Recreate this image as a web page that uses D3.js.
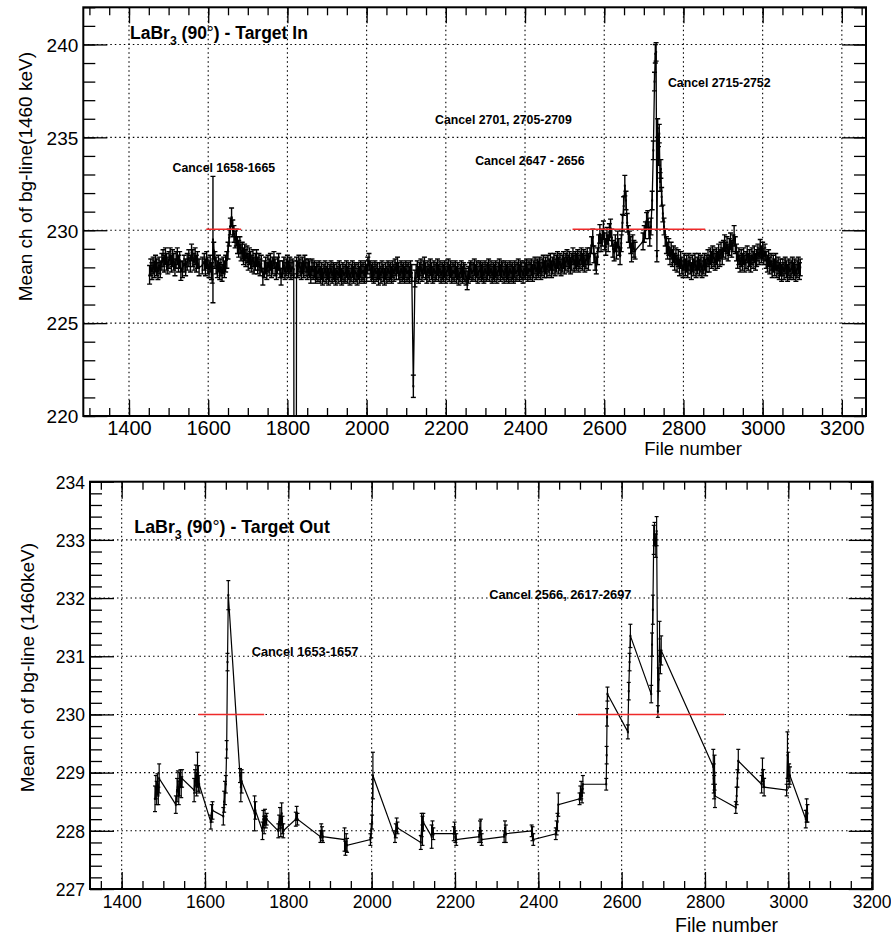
<!DOCTYPE html>
<html>
<head>
<meta charset="utf-8">
<script src="https://cdn.jsdelivr.net/npm/d3@7"></script>
<style>
  html, body { margin: 0; padding: 0; background: #ffffff; }
  svg { display: block; font-family: "Liberation Sans", Arial, Helvetica, sans-serif; }
</style>
</head>
<body>
<svg id="chart" width="891" height="935"></svg>
<script>
// ---------------------------------------------------------------
// Mean channel of the 1460 keV background line per file number,
// LaBr3 detector at 90 degrees.  Rows: [file number, mean ch, error]
// (error omitted -> typicalErrIn / typicalErrOut).
// ---------------------------------------------------------------
const typicalErrIn = 0.45;
const targetIn = [
  [1452,227.6,0.5],[1455,228.0],[1458,227.8],[1461,228.1],[1464,227.9],[1467,228.2],[1470,228.0],[1473,227.8],
  [1476,228.1],[1479,227.9],[1483,228.3],[1486,228.5],[1489,228.2],[1492,228.6],[1495,228.3],[1498,228.1],
  [1501,228.4],[1504,228.6],[1507,228.2],[1510,228.5],[1513,228.3],[1516,228.0],[1519,228.4],[1522,228.6],
  [1525,228.2],[1528,228.4],[1531,227.8,0.5],[1535,227.9],[1539,228.2],[1543,228.0],[1547,228.3],[1551,228.5],
  [1555,228.2],[1558,228.8],[1561,228.5],[1564,228.3],[1567,228.6],[1570,228.2],[1573,228.4],[1577,228.0],
  [1585,228.1],[1590,228.3],[1593,228.0],[1596,228.4],[1599,228.1],[1602,227.9],[1605,228.2],[1608,227.8],
  [1610,227.6],[1612,229.5,3.4],[1614,228.9],[1617,228.4],[1620,228.1],[1623,227.9],[1626,228.2],[1629,227.8],
  [1632,228.0],[1635,227.7],[1638,228.1],[1641,227.9],[1644,228.2],[1647,228.4],[1650,228.9],[1653,229.6],
  [1656,230.2],[1659,230.7,0.5],[1662,230.1],[1665,229.8],[1668,229.5],[1671,229.6],[1674,229.2],[1677,229.0],
  [1680,229.2],[1683,228.8],[1686,228.9],[1689,228.6],[1692,228.8],[1695,228.5],[1698,228.7],[1701,228.3],
  [1704,228.6],[1707,228.4],[1710,228.2],[1713,228.5],[1716,228.1],[1719,228.3],[1722,228.5],[1725,228.1],
  [1728,228.3],[1731,228.0],[1734,228.2],[1738,227.5],[1742,227.9],[1745,228.1],[1748,227.8],[1751,228.2],
  [1754,228.0],[1757,228.3],[1760,227.9],[1763,228.1],[1766,228.4],[1769,228.0],[1772,227.8],[1775,228.1],
  [1778,228.3],[1781,227.9],[1784,227.5],[1788,227.9],[1791,228.1],[1794,227.8],[1797,228.0],[1800,228.2],
  [1803,227.9],[1806,228.1],[1809,227.8],[1812,228.0],[1816,227.9],[1820,150.0,0],[1823,228.1],[1826,227.9],
  [1829,228.2],[1832,228.0],[1835,227.8],[1838,228.1],[1841,227.9],[1844,228.2],[1847,228.0],[1850,227.8],
  [1853,228.0],[1856,227.9],[1859,227.6],[1862,228.0],[1865,227.8],[1868,227.9],[1871,227.6],[1874,227.8],
  [1877,227.7],[1880,227.9],[1883,227.6],[1886,227.8],[1889,227.5],[1892,227.7],[1895,227.9],[1898,227.6],
  [1901,227.8],[1904,227.5],[1907,227.7],[1910,227.9],[1913,227.6],[1916,227.8],[1919,227.7],[1922,227.5],
  [1925,227.8],[1928,227.6],[1931,227.9],[1934,227.7],[1937,227.5],[1940,227.8],[1943,227.6],[1946,227.7],
  [1949,227.9],[1952,227.6],[1955,227.8],[1958,227.5],[1961,227.7],[1964,227.9],[1967,227.6],[1970,227.8],
  [1973,227.7],[1976,227.5],[1979,227.8],[1982,227.6],[1985,227.9],[1988,227.7],[1991,227.8],[1994,227.6],
  [1997,227.9],[2000,227.7],[2003,228.1],[2006,228.3],[2009,227.9],[2012,227.7],[2015,227.8],[2018,227.6],
  [2021,227.9],[2024,227.7],[2027,227.8],[2030,227.5],[2033,227.8],[2036,227.6],[2039,227.9],[2042,227.7],
  [2045,227.5],[2048,227.8],[2051,227.6],[2054,227.9],[2057,227.7],[2060,227.8],[2063,227.6],[2066,227.9],
  [2069,227.7],[2072,228.0],[2075,227.8],[2078,228.1],[2081,227.8],[2084,227.6],[2087,227.9],[2090,227.7],
  [2093,227.8],[2096,227.6],[2099,227.9],[2102,227.7],[2105,227.8],[2108,227.6],[2111,227.9],[2114,227.7],
  [2118,221.6,0.6],[2122,227.4],[2125,227.7],[2128,227.9],[2131,227.6],[2134,227.8],[2137,228.0],[2140,227.7],
  [2143,227.9],[2146,228.1],[2149,227.8],[2152,227.6],[2155,227.9],[2158,227.7],[2161,228.0],[2164,227.8],
  [2167,227.6],[2170,227.9],[2173,227.7],[2176,227.8],[2179,228.0],[2182,227.7],[2185,227.9],[2188,227.6],
  [2191,227.8],[2194,227.7],[2197,227.9],[2200,227.6],[2203,227.8],[2206,228.0],[2209,227.7],[2212,227.9],
  [2215,227.6],[2218,227.8],[2221,227.7],[2224,227.9],[2227,227.6],[2230,227.8],[2233,227.5],[2236,227.7],
  [2239,227.9],[2242,227.6],[2245,227.8],[2248,227.7],[2251,227.5],[2254,227.3,0.5],[2257,227.6],[2260,227.8],
  [2263,227.9],[2266,227.7],[2269,227.8],[2272,228.0],[2275,227.7],[2278,227.9],[2281,227.6],[2284,227.8],
  [2287,227.9],[2290,227.7],[2293,227.8],[2296,227.6],[2299,227.9],[2302,227.7],[2305,227.8],[2308,228.0],
  [2311,227.7],[2314,227.9],[2317,227.6],[2320,227.8],[2323,227.7],[2326,227.9],[2329,227.6],[2332,227.8],
  [2335,228.0],[2338,227.7],[2341,227.9],[2344,227.8],[2347,227.6],[2350,227.9],[2353,227.7],[2356,227.8],
  [2359,227.6],[2362,227.9],[2365,227.7],[2368,227.8],[2371,227.6],[2374,227.9],[2377,227.7],[2380,227.8],
  [2383,228.0],[2386,227.7],[2389,227.9],[2392,227.8],[2395,227.6],[2398,227.9],[2401,227.8],[2404,228.0],
  [2407,227.7],[2410,227.9],[2413,227.8],[2416,228.0],[2419,227.7],[2422,227.9],[2425,228.1],[2428,227.8],
  [2431,228.0],[2434,227.9],[2437,228.1],[2440,227.8],[2443,228.0],[2446,228.2],[2449,227.9],[2452,228.1],
  [2455,227.9],[2458,228.2],[2461,228.0],[2464,228.3],[2467,227.9],[2470,228.1],[2473,228.3],[2476,228.0],
  [2479,228.2],[2482,228.4],[2485,228.1],[2488,228.3],[2491,228.0],[2494,228.2],[2497,228.4],[2500,228.1],
  [2503,228.3],[2506,228.5],[2509,228.2],[2512,228.4],[2515,228.1],[2518,228.3],[2521,228.6],[2524,228.2],
  [2527,228.4],[2530,228.3],[2533,228.5],[2536,228.2],[2539,228.4],[2542,228.6],[2545,228.3],[2548,228.5],
  [2551,228.2],[2554,228.4],[2557,228.6],[2560,228.3],[2564,228.6],[2568,229.2],[2571,229.6],[2574,228.7],
  [2577,228.3],[2580,228.1],[2583,228.6],[2586,229.3],[2589,229.8,0.5],[2592,229.3],[2595,229.6],[2598,230.0,0.5],
  [2601,229.4],[2604,229.1],[2607,229.7],[2610,229.3],[2613,229.9],[2616,230.1,0.5],[2619,229.6],[2622,229.0],
  [2625,228.8],[2628,229.3],[2631,228.9],[2634,229.5],[2637,229.1],[2640,228.6],[2643,229.3],[2646,230.4],
  [2649,231.3,0.5],[2652,232.4,0.55],[2655,231.6,0.5],[2658,230.4,0.5],[2661,229.8],[2664,229.5],[2667,229.2],[2669,228.8,0.5],
  [2672,229.3],[2675,229.0],[2678,228.9],[2698,229.4],[2701,229.8],[2704,230.0],[2707,230.5],[2710,230.6],
  [2713,230.0],[2715,229.6],[2718,230.2],[2721,231.6,0.5],[2724,234.3,0.5],[2727,238.0,0.5],[2729,239.5,0.5],[2731,239.6,0.5],
  [2733,228.6,0.3],[2735,235.5,0.5],[2737,234.0,0.5],[2739,235.2,0.5],[2741,232.6,0.5],[2743,233.3,0.5],[2745,231.8,0.5],[2748,230.9],
  [2751,230.2],[2754,229.6],[2757,229.2],[2760,228.9],[2763,229.1],[2766,228.6],[2769,228.9],[2772,228.5],
  [2775,228.7],[2778,228.3],[2781,228.6],[2784,228.2],[2787,228.5],[2790,228.0],[2793,228.4],[2796,228.1],
  [2799,227.9],[2802,228.3],[2805,228.0],[2808,228.2],[2811,227.9],[2814,228.3],[2817,228.1],[2820,227.8],
  [2823,228.2],[2826,228.0],[2829,228.3],[2832,227.9],[2835,228.1],[2838,228.3],[2841,228.0],[2844,228.2],
  [2847,227.9],[2850,228.1],[2853,228.3],[2856,228.0],[2859,228.2],[2862,228.5],[2865,228.2],[2868,228.6],
  [2871,228.4],[2874,228.7],[2877,228.5],[2880,228.3],[2883,228.6],[2886,228.4],[2889,228.8],[2892,228.5],
  [2895,228.9],[2898,228.6],[2901,229.0],[2904,229.3],[2907,228.9],[2910,229.2],[2913,228.8],[2916,229.1],
  [2919,229.4],[2922,229.0],[2925,229.3],[2928,229.7,0.55],[2931,229.2],[2934,228.8],[2937,228.4],[2940,228.6],
  [2943,228.2],[2946,228.5],[2949,228.3],[2952,228.6],[2955,228.2],[2958,228.4],[2961,228.7],[2964,228.3],
  [2967,228.5],[2970,228.2],[2973,228.6],[2976,228.4],[2979,228.7],[2982,228.3],[2985,228.5],[2988,228.8],
  [2991,228.6],[2994,229.0,0.5],[2997,228.7],[3000,228.9],[3003,228.6],[3006,228.8],[3009,228.4],[3012,228.2],
  [3015,228.5],[3018,228.1],[3021,228.3],[3024,227.9],[3027,228.2],[3030,228.0],[3033,228.3],[3036,227.9],
  [3039,228.1],[3042,227.8],[3045,228.0],[3048,227.7],[3051,228.0],[3054,227.8],[3057,228.1],[3060,227.9],
  [3063,227.7],[3066,228.0],[3069,227.8],[3072,227.9],[3075,228.1],[3078,227.8],[3081,228.0],[3084,227.7],
  [3087,227.9],[3090,228.1],[3093,227.8],[3095,228.0]
];

const typicalErrOut = 0.15;
const targetOut = [
  [1480,228.55,0.22],[1482,228.75,0.2],[1484,228.65,0.2],[1486,228.8,0.18],[1488,228.6],[1490,228.9,0.25],
  [1530,228.45],[1533,228.7,0.2],[1535,228.85,0.18],[1537,228.6],[1539,228.8,0.2],[1541,228.9],[1543,228.75,0.18],[1545,228.9],
  [1574,228.7,0.2],[1576,228.85,0.2],[1578,228.95,0.18],[1580,228.8,0.2],[1582,229.05,0.3],[1584,228.9,0.22],[1586,228.8],
  [1614,228.15,0.12],[1616,228.3],[1618,228.35],
  [1644,228.25],[1646,228.5,0.18],[1648,228.65,0.2],[1650,228.8],[1652,229.4],[1654,230.9],[1656,232.05,0.25],
  [1684,228.95,0.12],[1686,228.75,0.25],[1688,228.85,0.2],
  [1719,228.3,0.3],[1721,228.35],
  [1738,228.0],[1740,228.2],[1742,228.1],[1744,228.25,0.12],[1746,228.15,0.1],[1748,228.2,0.1],
  [1776,228.0,0.12],[1778,228.15,0.12],[1780,228.25],[1782,228.05],[1784,228.3,0.18],[1786,228.1],[1788,228.0,0.12],
  [1818,228.2,0.12],[1820,228.3,0.12],[1822,228.2,0.1],
  [1877,227.9,0.1],[1879,228.0,0.12],[1881,227.95,0.12],[1883,227.9,0.1],
  [1935,227.85,0.2],[1937,227.7,0.12],[1939,227.8],[1941,227.75,0.12],
  [1997,227.85,0.1],[1999,228.0,0.12],[2001,228.15,0.12],[2003,228.95,0.4],
  [2056,227.9,0.1],[2058,228.0,0.12],[2060,228.1,0.12],[2062,228.05,0.1],
  [2118,227.8,0.12],[2120,228.1,0.2],[2122,228.0,0.25],[2124,228.15],
  [2144,227.9,0.2],[2146,228.05,0.12],[2148,227.95,0.1],
  [2197,227.95,0.12],[2199,228.05,0.1],[2201,227.9,0.1],[2203,227.85,0.1],
  [2258,227.9,0.1],[2260,228.05,0.12],[2262,228.0,0.2],[2264,227.85,0.1],
  [2318,227.9,0.1],[2320,228.05,0.12],[2322,227.95],
  [2384,228.0,0.1],[2386,227.95,0.12],[2388,227.85,0.1],
  [2442,227.95,0.1],[2444,228.05,0.12],[2446,228.15],[2448,228.45,0.2],
  [2499,228.55,0.1],[2501,228.65,0.12],[2503,228.7],[2505,228.6,0.12],[2507,228.8],
  [2563,228.8,0.1],[2564,229.3],[2565,229.95],[2566,230.35,0.12],
  [2615,229.7,0.12],[2617,230.4],[2619,230.9],[2621,231.35,0.2],
  [2671,230.35],[2673,231.2,0.2],[2675,231.8,0.25],[2677,233.0,0.25],[2679,233.1,0.2],[2682,232.9,0.2],[2684,233.15,0.25],
  [2687,230.05,0.1],[2689,230.6,0.2],[2691,231.3,0.3],[2693,230.9,0.2],[2695,231.1,0.25],
  [2820,229.1,0.3],[2821,228.9,0.25],[2822,228.75,0.2],[2823,229.0,0.3],[2824,228.6,0.2],
  [2874,228.4,0.1],[2876,228.6],[2878,228.9],[2880,229.2,0.2],
  [2936,228.8],[2938,229.05,0.2],[2940,228.9],[2942,228.75],
  [2996,228.7,0.1],[2998,229.3,0.4],[3000,229.1,0.25],[3002,228.95,0.2],[3004,228.95],
  [3042,228.2],[3044,228.35,0.2],[3046,228.3]
];

// Reference level (red) segments: [from file, to file]
const refLevelIn = 230.05;
const refSegmentsIn = [[1595, 1683], [2520, 2855]];
const refLevelOut = 230.0;
const refSegmentsOut = [[1584, 1742], [2495, 2846]];

// Tick values
const xMajorTicks = [1400, 1600, 1800, 2000, 2200, 2400, 2600, 2800, 3000, 3200];
const xMinorTicks = d3.range(1300, 3251, 50);
const yMajorTicksIn = [220, 225, 230, 235, 240];
const yMinorTicksIn = d3.range(220, 243, 1);
const yMajorTicksOut = [227, 228, 229, 230, 231, 232, 233, 234];
const yMinorTicksOut = d3.range(227, 234.01, 0.2);

// Annotation texts: [file, value, text, anchor]
const notesIn = [
  [1510, 233.14, "Cancel 1658-1665", "start"],
  [2518, 235.71, "Cancel 2701, 2705-2709", "end"],
  [2274, 233.51, "Cancel 2647 - 2656", "start"],
  [2761, 237.69, "Cancel 2715-2752", "start"]
];
const notesOut = [
  [1712, 231.0, "Cancel 1653-1657", "start"],
  [2282, 231.98, "Cancel 2566, 2617-2697", "start"]
];

const svg = d3.select("#chart");
const FONT = '"Liberation Sans", Arial, Helvetica, sans-serif';

function drawPanel(p) {
  const x = d3.scaleLinear().domain(p.xDomain).range([p.left, p.right]);
  const y = d3.scaleLinear().domain(p.yDomain).range([p.bottom, p.top]);
  const g = svg.append("g");

  svg.append("clipPath").attr("id", p.id + "-clip")
    .append("rect")
    .attr("x", p.left).attr("y", p.top)
    .attr("width", p.right - p.left).attr("height", p.bottom - p.top);

  // dotted grid at the major ticks
  const grid = g.append("g").attr("stroke", "#000").attr("stroke-width", 1.1)
    .attr("stroke-dasharray", "1.5 3").attr("fill", "none");
  grid.selectAll("line.gx")
    .data(p.xMajor.filter(v => x(v) > p.left + 1 && x(v) < p.right - 1))
    .join("line").attr("class", "gx")
    .attr("x1", d => x(d)).attr("x2", d => x(d))
    .attr("y1", p.top).attr("y2", p.bottom);
  grid.selectAll("line.gy")
    .data(p.yMajor.filter(v => y(v) > p.top + 1 && y(v) < p.bottom - 1))
    .join("line").attr("class", "gy")
    .attr("x1", p.left).attr("x2", p.right)
    .attr("y1", d => y(d)).attr("y2", d => y(d));

  // inward ticks on all four sides
  const inDomainX = p.xMinor.filter(v => v >= p.xDomain[0] && v <= p.xDomain[1]);
  const inDomainY = p.yMinor.filter(v => v >= p.yDomain[0] - 1e-6 && v <= p.yDomain[1] + 1e-6);
  const tickStyle = sel => {
    sel.select(".domain").remove();
    sel.selectAll("line").attr("stroke", "#000").attr("stroke-width", 1.3);
    sel.attr("font-family", null).attr("font-size", null);
  };
  g.append("g").attr("transform", `translate(0,${p.bottom})`)
    .call(d3.axisBottom(x).tickValues(inDomainX).tickSize(-p.xMinorLen).tickFormat(""))
    .call(tickStyle);
  g.append("g").attr("transform", `translate(0,${p.top})`)
    .call(d3.axisTop(x).tickValues(inDomainX).tickSize(-p.xMinorLen).tickFormat(""))
    .call(tickStyle);
  g.append("g").attr("transform", `translate(0,${p.top})`)
    .call(d3.axisTop(x).tickValues(p.xMajor).tickSize(-p.xMajorLen).tickFormat(""))
    .call(tickStyle);
  g.append("g").attr("transform", `translate(${p.left},0)`)
    .call(d3.axisLeft(y).tickValues(inDomainY).tickSize(-p.yMinorLen).tickFormat(""))
    .call(tickStyle);
  g.append("g").attr("transform", `translate(${p.right},0)`)
    .call(d3.axisRight(y).tickValues(inDomainY).tickSize(-p.yMinorLen).tickFormat(""))
    .call(tickStyle);
  g.append("g").attr("transform", `translate(${p.right},0)`)
    .call(d3.axisRight(y).tickValues(p.yMajor).tickSize(-p.yMajorLen).tickFormat(""))
    .call(tickStyle);

  // labelled axes (bottom and left)
  const xAxis = g.append("g").attr("transform", `translate(0,${p.bottom})`)
    .call(d3.axisBottom(x).tickValues(p.xMajor).tickSize(-p.xMajorLen).tickFormat(d3.format("d")))
    .call(tickStyle);
  xAxis.selectAll("text")
    .attr("y", p.xLabelOffset).attr("dy", null)
    .attr("fill", "#000").attr("font-family", FONT).attr("font-size", p.xLabelSize);
  const yAxis = g.append("g").attr("transform", `translate(${p.left},0)`)
    .call(d3.axisLeft(y).tickValues(p.yMajor).tickSize(-p.yMajorLen).tickFormat(d3.format("d")))
    .call(tickStyle);
  yAxis.selectAll("text")
    .attr("x", -p.yLabelGap).attr("dy", "0.36em")
    .attr("fill", "#000").attr("font-family", FONT).attr("font-size", p.yLabelSize);

  // data: connecting line, error bars with end caps, small markers
  const data = p.data.map(r => ({ f: r[0], v: r[1], e: r.length > 2 ? r[2] : p.typicalErr }));
  const plot = g.append("g").attr("clip-path", `url(#${p.id}-clip)`);
  plot.append("path").datum(data)
    .attr("fill", "none").attr("stroke", "#000").attr("stroke-width", p.lineWidth)
    .attr("d", d3.line().x(d => x(d.f)).y(d => y(d.v)));
  const bars = plot.append("g").attr("stroke", "#000").attr("stroke-width", p.barWidth);
  const withErr = data.filter(d => d.e > 0);
  bars.selectAll("line.eb").data(withErr).join("line").attr("class", "eb")
    .attr("x1", d => x(d.f)).attr("x2", d => x(d.f))
    .attr("y1", d => y(d.v - d.e)).attr("y2", d => y(d.v + d.e));
  bars.selectAll("line.ct").data(withErr).join("line").attr("class", "ct")
    .attr("x1", d => x(d.f) - p.cap).attr("x2", d => x(d.f) + p.cap)
    .attr("y1", d => y(d.v + d.e)).attr("y2", d => y(d.v + d.e));
  bars.selectAll("line.cb").data(withErr).join("line").attr("class", "cb")
    .attr("x1", d => x(d.f) - p.cap).attr("x2", d => x(d.f) + p.cap)
    .attr("y1", d => y(d.v - d.e)).attr("y2", d => y(d.v - d.e));
  plot.append("g").selectAll("rect").data(data).join("rect")
    .attr("x", d => x(d.f) - 1).attr("y", d => y(d.v) - 1)
    .attr("width", 2).attr("height", 2).attr("fill", "#000");

  // red reference level
  g.append("g").selectAll("line").data(p.refSegments).join("line")
    .attr("x1", d => x(d[0])).attr("x2", d => x(d[1]))
    .attr("y1", y(p.refLevel)).attr("y2", y(p.refLevel))
    .attr("stroke", "#ee2a2a").attr("stroke-width", 1.6);

  // frame
  g.append("rect")
    .attr("x", p.left).attr("y", p.top)
    .attr("width", p.right - p.left).attr("height", p.bottom - p.top)
    .attr("fill", "none").attr("stroke", "#000").attr("stroke-width", 2);

  // axis titles
  g.append("text")
    .attr("transform", `translate(${p.yTitlePos[0]},${p.yTitlePos[1]}) rotate(-90)`)
    .attr("text-anchor", "end").attr("font-size", p.yTitleSize).attr("fill", "#000")
    .text(p.yTitle);
  g.append("text")
    .attr("x", p.xTitlePos[0]).attr("y", p.xTitlePos[1])
    .attr("text-anchor", "end").attr("font-size", p.xTitleSize).attr("fill", "#000")
    .text("File number");

  // panel title: LaBr3 (90°) - Target ...
  const t = g.append("text")
    .attr("x", p.titlePos[0]).attr("y", p.titlePos[1])
    .attr("font-size", p.titleSize).attr("font-weight", "bold").attr("fill", "#000");
  t.append("tspan").text("LaBr");
  t.append("tspan").attr("font-size", p.titleSize * 0.7).attr("dy", p.titleSize * 0.3).text("3");
  t.append("tspan").attr("dy", -p.titleSize * 0.3).text(" (90");
  t.append("tspan").attr("font-weight", "normal").text("°");
  t.append("tspan").text(") - " + p.titleTail);

  // annotations
  g.append("g").selectAll("text").data(p.notes).join("text")
    .attr("x", d => x(d[0])).attr("y", d => y(d[1]))
    .attr("text-anchor", d => d[3])
    .attr("font-size", p.noteSize).attr("font-weight", "bold").attr("fill", "#000")
    .text(d => d[2]);
}

drawPanel({
  id: "tin",
  left: 83.3, right: 866, top: 7.3, bottom: 416,
  xDomain: [1284.6, 3261], yDomain: [220, 242],
  xMajor: xMajorTicks, xMinor: xMinorTicks,
  yMajor: yMajorTicksIn, yMinor: yMinorTicksIn,
  xMajorLen: 16, xMinorLen: 8, yMajorLen: 24, yMinorLen: 12,
  xLabelOffset: 19, xLabelSize: 20, yLabelGap: 5, yLabelSize: 19,
  data: targetIn, typicalErr: typicalErrIn, cap: 2.5, lineWidth: 1.3, barWidth: 1.4,
  refLevel: refLevelIn, refSegments: refSegmentsIn,
  yTitle: "Mean ch of bg-line(1460 keV)", yTitlePos: [32, 52], yTitleSize: 19,
  xTitlePos: [742, 455], xTitleSize: 18.5,
  titlePos: [130, 39.3], titleSize: 17.5, titleTail: "Target In",
  notes: notesIn, noteSize: 12.3
});

drawPanel({
  id: "tout",
  left: 90, right: 872.7, top: 481.7, bottom: 889,
  xDomain: [1324, 3202.6], yDomain: [227, 234],
  xMajor: xMajorTicks, xMinor: xMinorTicks,
  yMajor: yMajorTicksOut, yMinor: yMinorTicksOut,
  xMajorLen: 17, xMinorLen: 8, yMajorLen: 24, yMinorLen: 12,
  xLabelOffset: 19, xLabelSize: 17.5, yLabelGap: 5, yLabelSize: 17.5,
  data: targetOut, typicalErr: typicalErrOut, cap: 2, lineWidth: 1.2, barWidth: 1.2,
  refLevel: refLevelOut, refSegments: refSegmentsOut,
  yTitle: "Mean ch of bg-line (1460keV)", yTitlePos: [33.5, 543], yTitleSize: 19,
  xTitlePos: [778, 931.5], xTitleSize: 19.5,
  titlePos: [134.3, 533.3], titleSize: 17.8, titleTail: "Target Out",
  notes: notesOut, noteSize: 12.8
});
</script>
</body>
</html>
